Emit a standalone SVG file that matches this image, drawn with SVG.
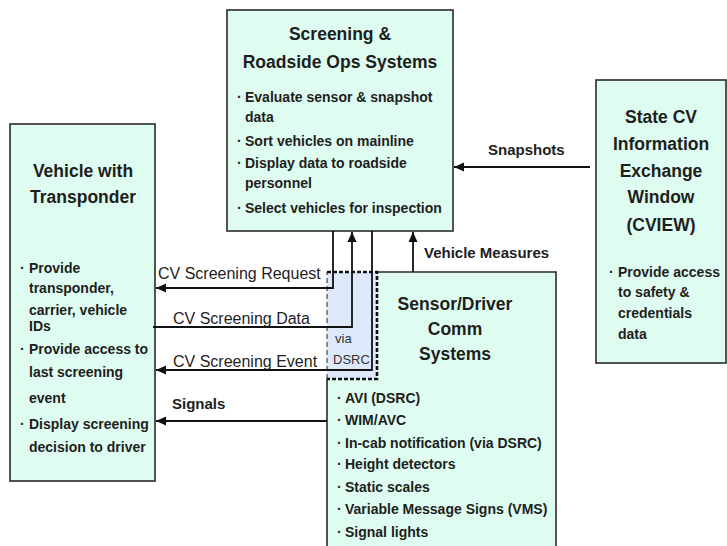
<svg xmlns="http://www.w3.org/2000/svg" width="727" height="546" viewBox="0 0 727 546">
<defs>
<style>
.box{fill:#defcef;stroke:#2a2a2a;stroke-width:1.6}
.t{font-family:"Liberation Sans",Arial,sans-serif;font-weight:bold;fill:#1e1e1e}
.title{font-size:17.5px;text-anchor:middle}
.b{font-size:14px}
.lbl{font-family:"Liberation Sans",Arial,sans-serif;font-size:16px;fill:#1e1e1e}
.lblb{font-family:"Liberation Sans",Arial,sans-serif;font-size:15px;font-weight:bold;fill:#1e1e1e}
.c{fill:none;stroke:#111;stroke-width:1.8}
</style>
<marker id="ah" markerUnits="userSpaceOnUse" markerWidth="11" markerHeight="10" refX="10" refY="5" orient="auto">
<path d="M0,0.5 L10,5 L0,9.5 z" fill="#111"/>
</marker>
</defs>
<rect width="727" height="546" fill="#fff"/>

<g id="screening">
<rect class="box" x="227" y="10" width="226" height="221"/>
<text class="t title" x="340" y="40">Screening &amp;</text>
<text class="t title" x="340" y="68">Roadside Ops Systems</text>
<text class="t b" x="237" y="102">·</text><text class="t b" x="245" y="102">Evaluate sensor &amp; snapshot</text>
<text class="t b" x="245" y="122">data</text>
<text class="t b" x="237" y="146">·</text><text class="t b" x="245" y="146">Sort vehicles on mainline</text>
<text class="t b" x="237" y="168">·</text><text class="t b" x="245" y="168">Display data to roadside</text>
<text class="t b" x="245" y="188">personnel</text>
<text class="t b" x="237" y="213">·</text><text class="t b" x="245" y="213">Select vehicles for inspection</text>
</g>

<g id="vehicle">
<rect class="box" x="10" y="124" width="145" height="357"/>
<text class="t title" x="83" y="177">Vehicle with</text>
<text class="t title" x="83" y="203">Transponder</text>
<text class="t b" x="20" y="273">·</text><text class="t b" x="29" y="273">Provide</text>
<text class="t b" x="29" y="293">transponder,</text>
<text class="t b" x="29" y="315">carrier, vehicle</text>
<text class="t b" x="29" y="331">IDs</text>
<text class="t b" x="20" y="354">·</text><text class="t b" x="29" y="354">Provide access to</text>
<text class="t b" x="29" y="377">last screening</text>
<text class="t b" x="29" y="403">event</text>
<text class="t b" x="20" y="429">·</text><text class="t b" x="29" y="429">Display screening</text>
<text class="t b" x="29" y="452">decision to driver</text>
</g>

<g id="cview">
<rect class="box" x="596" y="80" width="130" height="283"/>
<text class="t title" x="661" y="123">State CV</text>
<text class="t title" x="661" y="150">Information</text>
<text class="t title" x="661" y="177">Exchange</text>
<text class="t title" x="661" y="203">Window</text>
<text class="t title" x="661" y="231">(CVIEW)</text>
<text class="t b" x="609" y="277">·</text><text class="t b" x="618" y="277">Provide access</text>
<text class="t b" x="618" y="297">to safety &amp;</text>
<text class="t b" x="618" y="318">credentials</text>
<text class="t b" x="618" y="339">data</text>
</g>

<g id="sensor">
<rect x="327" y="272" width="229" height="290" fill="#defcef"/>
<path d="M377,272 H556 V560 M327,379 V560" fill="none" stroke="#2a2a2a" stroke-width="1.6"/>
<text class="t title" x="455" y="310">Sensor/Driver</text>
<text class="t title" x="455" y="335">Comm</text>
<text class="t title" x="455" y="360">Systems</text>
<text class="t b" x="337" y="403">·</text><text class="t b" x="345" y="403">AVI (DSRC)</text>
<text class="t b" x="337" y="425">·</text><text class="t b" x="345" y="425">WIM/AVC</text>
<text class="t b" x="337" y="448">·</text><text class="t b" x="345" y="448">In-cab notification (via DSRC)</text>
<text class="t b" x="337" y="469">·</text><text class="t b" x="345" y="469">Height detectors</text>
<text class="t b" x="337" y="492">·</text><text class="t b" x="345" y="492">Static scales</text>
<text class="t b" x="337" y="514">·</text><text class="t b" x="345" y="514">Variable Message Signs (VMS)</text>
<text class="t b" x="337" y="537">·</text><text class="t b" x="345" y="537">Signal lights</text>
</g>

<g id="dsrc">
<rect x="327" y="272" width="50" height="107" fill="#dde9fa"/>
<path d="M327,379 V272" fill="none" stroke="#222" stroke-width="1" stroke-dasharray="5,3"/>
<path d="M327,272 H377 V379 H327" fill="none" stroke="#111" stroke-width="2.6" stroke-dasharray="4,2"/>
<text x="335" y="343" font-family="Liberation Sans, Arial, sans-serif" font-size="13" fill="#333">via</text>
<text x="333" y="364" font-family="Liberation Sans, Arial, sans-serif" font-size="13" fill="#333">DSRC</text>
</g>

<g id="connectors">
<path class="c" d="M333,231 V288 H156" marker-end="url(#ah)"/>
<path class="c" d="M153,327 H352 V232" marker-end="url(#ah)"/>
<path class="c" d="M372,231 V370 H156" marker-end="url(#ah)"/>
<path class="c" d="M327,421 H156" marker-end="url(#ah)"/>
<path class="c" d="M413,272 V232" marker-end="url(#ah)"/>
<path class="c" d="M590,167 H454" marker-end="url(#ah)"/>
<text class="lbl" x="158" y="279">CV Screening Request</text>
<text class="lbl" x="173" y="324">CV Screening Data</text>
<text class="lbl" x="173" y="367">CV Screening Event</text>
<text class="lblb" x="172" y="409">Signals</text>
<text class="lblb" x="424" y="258">Vehicle Measures</text>
<text class="lblb" x="488" y="155">Snapshots</text>
</g>
</svg>
